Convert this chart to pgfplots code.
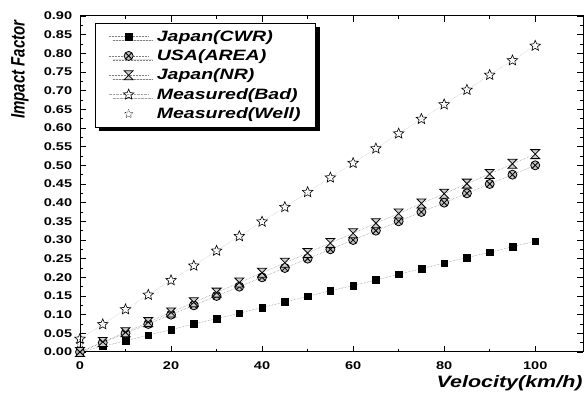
\documentclass[border=0pt]{standalone}
\usepackage{fontspec}
\setmainfont{Liberation Sans}[FakeStretch=1.3]
\newfontfamily\plainsans{Liberation Sans}
\usepackage{graphicx}
\usepackage{pgfplots}
\pgfplotsset{compat=1.18}
\usetikzlibrary{plotmarks,shadows}

\pgfdeclareplotmark{starline}{%
  \pgfpathmoveto{\pgfpointpolar{90}{\pgfplotmarksize}}%
  \pgfpathlineto{\pgfpointpolar{126}{0.45\pgfplotmarksize}}%
  \pgfpathlineto{\pgfpointpolar{162}{\pgfplotmarksize}}%
  \pgfpathlineto{\pgfpointpolar{198}{0.45\pgfplotmarksize}}%
  \pgfpathlineto{\pgfpointpolar{234}{\pgfplotmarksize}}%
  \pgfpathlineto{\pgfpointpolar{270}{0.45\pgfplotmarksize}}%
  \pgfpathlineto{\pgfpointpolar{306}{\pgfplotmarksize}}%
  \pgfpathlineto{\pgfpointpolar{342}{0.45\pgfplotmarksize}}%
  \pgfpathlineto{\pgfpointpolar{18}{\pgfplotmarksize}}%
  \pgfpathlineto{\pgfpointpolar{54}{0.45\pgfplotmarksize}}%
  \pgfpathclose\pgfusepathqstroke}
\pgfdeclareplotmark{hourglass}{%
  \pgfpathmoveto{\pgfqpoint{-\pgfplotmarksize}{\pgfplotmarksize}}%
  \pgfpathlineto{\pgfqpoint{\pgfplotmarksize}{\pgfplotmarksize}}%
  \pgfpathlineto{\pgfqpoint{-\pgfplotmarksize}{-\pgfplotmarksize}}%
  \pgfpathlineto{\pgfqpoint{\pgfplotmarksize}{-\pgfplotmarksize}}%
  \pgfpathclose\pgfusepathqfillstroke}

\pgfplotstableread{
v cwr usa nr bad
0 0.000 0.000 0.000 0.035
5 0.015 0.025 0.027 0.074
10 0.030 0.050 0.053 0.114
15 0.045 0.075 0.080 0.153
20 0.060 0.100 0.106 0.192
25 0.075 0.125 0.133 0.231
30 0.089 0.150 0.159 0.271
35 0.104 0.175 0.186 0.310
40 0.119 0.200 0.212 0.349
45 0.134 0.225 0.239 0.388
50 0.149 0.250 0.265 0.428
55 0.164 0.275 0.292 0.467
60 0.178 0.300 0.318 0.506
65 0.193 0.325 0.345 0.545
70 0.208 0.350 0.371 0.585
75 0.223 0.375 0.398 0.624
80 0.238 0.400 0.424 0.663
85 0.253 0.425 0.451 0.702
90 0.267 0.450 0.477 0.742
95 0.282 0.475 0.504 0.781
100 0.297 0.500 0.530 0.820
}\data

\begin{document}
\begin{tikzpicture}
\begin{axis}[
  name=ax,
  scale only axis,
  width=503pt, height=336pt,
  xmin=0, xmax=110.5, ymin=0, ymax=0.9,
  xtick={0,20,...,100},
  minor x tick num=1,
  ytick={0,0.05,...,0.91},
  minor y tick num=1,
  tick align=inside,
  major tick length=6pt, minor tick length=3pt,
  tick style={black, line width=0.6pt},
  axis line style={line width=1pt},
  every axis/.append style={line width=1pt},
  /pgf/number format/assume math mode=true,
  yticklabel style={/pgf/number format/fixed,/pgf/number format/fixed zerofill,/pgf/number format/precision=2,
     font=\bfseries\fontsize{11.2}{13}\selectfont, xshift=-4pt},
  xticklabel style={font=\bfseries\fontsize{11.2}{13}\selectfont, yshift=-6pt},
  scaled y ticks=false,
  xlabel={Velocity(km/h)},
  xlabel style={at={(rel axis cs:1,0)}, anchor=north east, yshift=-23pt, inner sep=0pt,
     font=\bfseries\itshape\fontsize{16.5}{19}\selectfont},
  ylabel={\scalebox{1}[1.3]{\plainsans\bfseries\itshape\fontsize{15}{18}\selectfont Impact Factor}},
  ylabel style={at={(rel axis cs:0,1)}, anchor=east, yshift=60pt, xshift=-4pt, inner sep=0pt},
  legend cell align=left,
  legend style={at={(0.03,0.979)}, anchor=north west, draw=black, line width=0.6pt, fill=white,
     drop shadow={shadow xshift=4pt, shadow yshift=-4pt, opacity=1, fill=black},
     font=\bfseries\itshape\fontsize{15}{18}\selectfont, row sep=3pt, column sep=6pt,
     inner xsep=13pt, inner ysep=5pt},
  legend image code/.code={\draw[mark repeat=2,mark phase=2,#1] plot coordinates {(0pt,0pt) (20pt,0pt) (40pt,0pt)};},
]
\addplot[densely dotted, gray, line width=0.5pt, mark=square*, mark size=3.3pt,
  mark options={solid, fill=black, draw=black, line width=0.4pt}] table[x=v,y=cwr]{\data};
\addlegendentry{Japan(CWR)}
\addplot[densely dotted, gray, line width=0.5pt, mark=otimes*, mark size=4.5pt,
  mark options={solid, fill=gray!50, draw=black, line width=0.8pt}] table[x=v,y=usa]{\data};
\addlegendentry{USA(AREA)}
\addplot[densely dotted, gray, line width=0.5pt, mark=hourglass, mark size=4.5pt,
  mark options={solid, fill=gray!40, draw=black, line width=0.8pt}] table[x=v,y=nr]{\data};
\addlegendentry{Japan(NR)}
\addplot[densely dotted, gray!70, line width=0.4pt, mark=starline, mark size=5.5pt,
  mark options={solid, draw=black, line width=0.6pt}] table[x=v,y=bad]{\data};
\addlegendentry{Measured(Bad)}
\addplot[only marks, mark=starline, mark size=4.5pt,
  mark options={densely dotted, draw=black, line width=0.6pt}] coordinates {(0,0.022)};
\addlegendentry{Measured(Well)}
\end{axis}
\path (ax.south west) ++(-80pt,-47pt) coordinate (bl);
\path (ax.north east) ++(2pt,16pt) coordinate (tr);
\path (bl) rectangle (tr);
\end{tikzpicture}
\end{document}
